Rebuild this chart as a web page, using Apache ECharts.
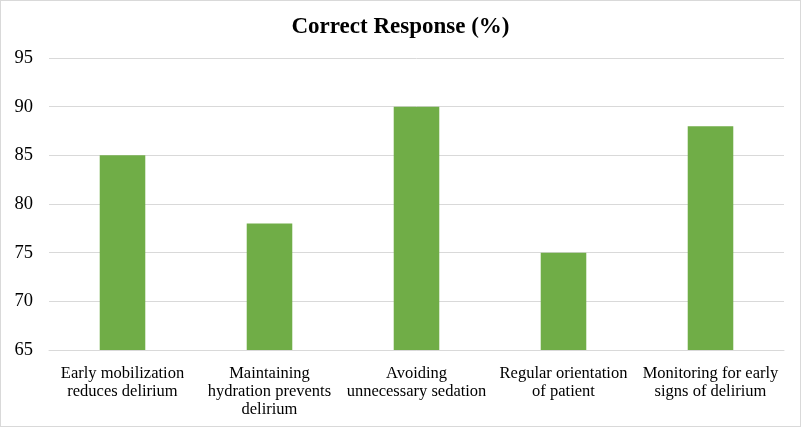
<!DOCTYPE html>
<html>
<head>
<meta charset="utf-8">
<script src="https://cdn.jsdelivr.net/npm/echarts@6/dist/echarts.min.js"></script>
<style>
html,body{margin:0;padding:0;background:#fff;}
#wrap{position:absolute;left:0;top:0;width:799px;height:425px;border:1px solid #d9d9d9;}
#chart{width:799px;height:425px;}
</style>
</head>
<body>
<div id="wrap"><div id="chart"></div></div>
<script>
const categories = [
  "Early mobilization\nreduces delirium",
  "Maintaining\nhydration prevents\ndelirium",
  "Avoiding\nunnecessary sedation",
  "Regular orientation\nof patient",
  "Monitoring for early\nsigns of delirium"
];
const correctResponse = [85, 78, 90, 75, 88];
const yTicks = { min: 65, max: 95, interval: 5 };

const chart = echarts.init(document.getElementById('chart'));
chart.setOption({
  animation: false,
  textStyle: { fontFamily: 'Liberation Serif' },
  title: {
    text: 'Correct Response (%)',
    left: 'center',
    top: 10,
    textStyle: { fontFamily: 'Liberation Serif', fontWeight: 'bold', fontSize: 23, color: '#000' }
  },
  grid: { left: 48, right: 16, top: 57, bottom: 76 },
  xAxis: {
    type: 'category',
    data: categories,
    axisLine: { lineStyle: { color: '#d9d9d9' } },
    axisTick: { show: false },
    axisLabel: { color: '#000', fontSize: 16.5, lineHeight: 18, margin: 15, interval: 0, fontFamily: 'Liberation Serif' }
  },
  yAxis: {
    type: 'value',
    min: yTicks.min, max: yTicks.max, interval: yTicks.interval,
    axisLine: { show: false },
    axisTick: { show: false },
    splitLine: { lineStyle: { color: '#d9d9d9' } },
    axisLabel: { color: '#000', fontSize: 18.5, margin: 16, fontFamily: 'Liberation Serif' }
  },
  series: [{
    type: 'bar',
    data: correctResponse,
    barWidth: '31%',
    itemStyle: { color: '#70ad47' }
  }]
});
</script>
</body>
</html>
